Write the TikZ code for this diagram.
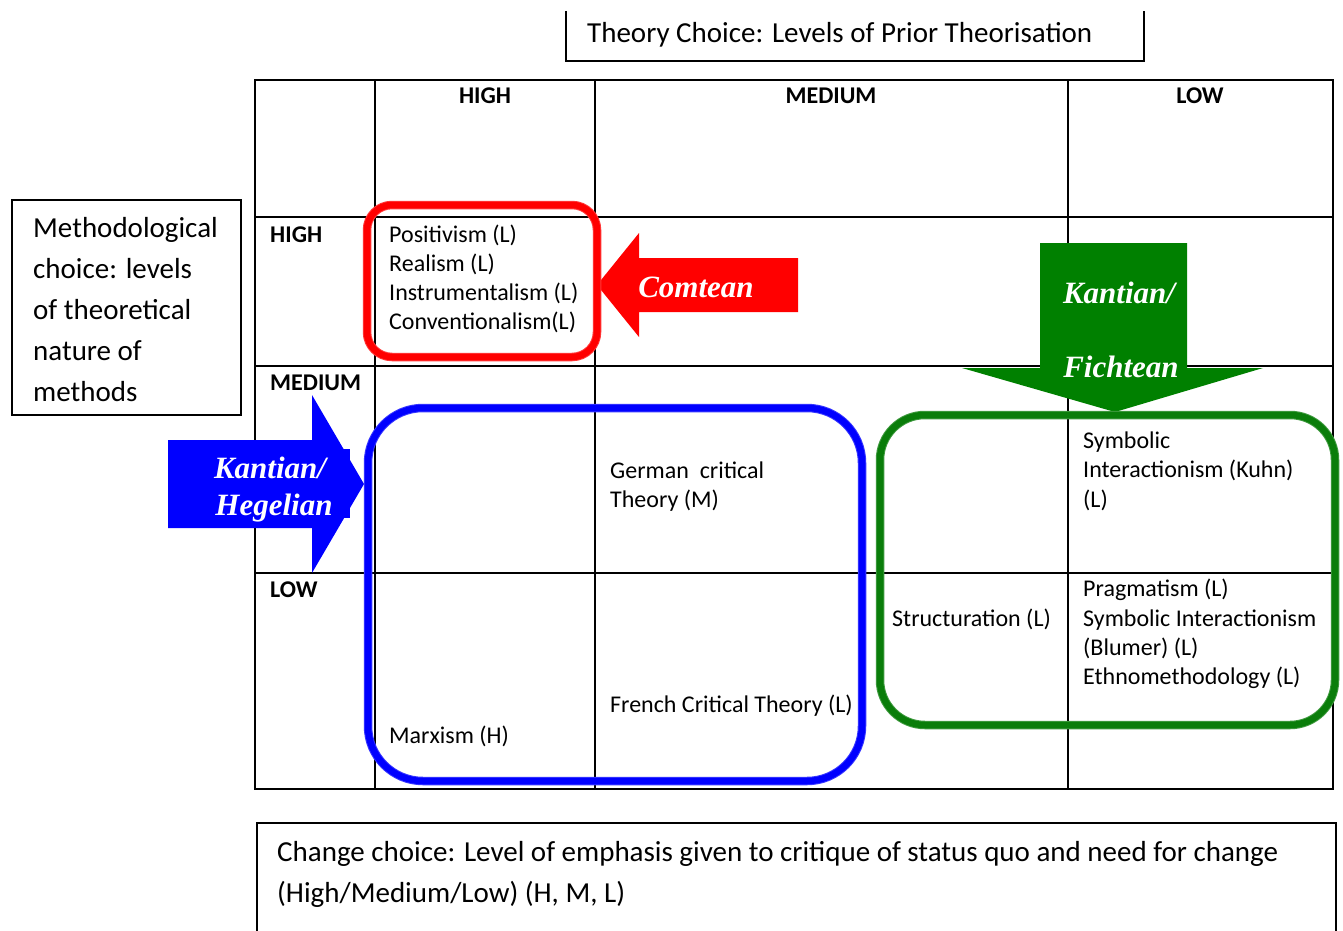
\documentclass[tikz,border=0pt]{standalone}
\usepackage{fontspec}
\setmainfont{Carlito}
\newfontfamily\tnr{Liberation Serif}
\definecolor{arrowgreen}{RGB}{0,128,0}
\definecolor{boxgreen}{RGB}{10,125,10}
\definecolor{purered}{RGB}{255,0,0}
\definecolor{pureblue}{RGB}{0,0,255}
% rounded frame with a soft rim round a solid core
\newcommand\glossyframe[4]{%
  \draw[line width=8.5pt,#1!78!white,rounded corners=#4] #2 rectangle #3;
  \draw[line width=6.5pt,#1,rounded corners=#4] #2 rectangle #3;}
\begin{document}
\begin{tikzpicture}[x=1pt,y=-1pt,
  tablerule/.style={line width=2pt,black},
  boxline/.style={line width=1.6pt,black},
  cell/.style={anchor=base west,inner sep=0pt,font=\fontsize{24}{29}\selectfont},
  colhead/.style={anchor=base,inner sep=0pt,font=\fontsize{24}{29}\selectfont\bfseries},
  rowhead/.style={anchor=base west,inner sep=0pt,font=\fontsize{24}{29}\selectfont\bfseries},
  bigtext/.style={anchor=base west,inner sep=0pt,font=\fontsize{29}{35}\selectfont},
  arrowlabel/.style={anchor=base,inner sep=0pt,text=white,font=\fontsize{31}{37}\tnr\bfseries\itshape},
]
\useasboundingbox (0,0) rectangle (1343,931);
\fill[white] (0,0) rectangle (1343,931);

% outer frames of the title boxes
\draw[boxline] (566,11) -- (566,61) -- (1144,61) -- (1144,11);
\draw[boxline] (12,200) rectangle (241,415);
\draw[boxline] (257,931) -- (257,823) -- (1336,823) -- (1336,931);

% table grid
\draw[tablerule] (255,80) rectangle (1333,789);
\foreach \cx in {375,595,1068} \draw[tablerule] (\cx,80) -- (\cx,789);
\foreach \ry in {217,366,573} \draw[tablerule] (255,\ry) -- (1333,\ry);

% block arrows
\fill[purered] (798,258) -- (639,258) -- (639,233) -- (597,285) -- (639,337) -- (639,312) -- (798,312) -- cycle;
\fill[arrowgreen] (1040,243) -- (1187,243) -- (1187,368) -- (1263,368) -- (1115,412) -- (962,368) -- (1040,368) -- cycle;
\fill[pureblue] (168,440) -- (312,440) -- (312,395) -- (364,484) -- (312,573) -- (312,528) -- (168,528) -- cycle;
\fill[pureblue] (300,449) rectangle (350,518);

% grouping frames
\glossyframe{purered}{(367,205)}{(597,357)}{25pt}
\glossyframe{pureblue}{(368,408)}{(862,781)}{55pt}
\glossyframe{boxgreen}{(880,415)}{(1335,725)}{45pt}

% titles
\node[bigtext] (title) at (587,43) {Theory Choice: Levels of Prior Theorisation};
\node[bigtext] (m1) at (33,237) {Methodological};
\node[bigtext] (m2) at (33,278) {choice: levels};
\node[bigtext] (m3) at (33,319) {of theoretical};
\node[bigtext] (m4) at (33,360) {nature of};
\node[bigtext] (m5) at (33,401) {methods};
\node[bigtext] (c1) at (277,861) {Change choice: Level of emphasis given to critique of status quo and need for change};
\node[bigtext] (c2) at (277,902) {(High/Medium/Low) (H, M, L)};

% headers
\node[colhead] (hh) at (485,103) {HIGH};
\node[colhead] (hm) at (831,103) {MEDIUM};
\node[colhead] (hl) at (1200,103) {LOW};
\node[rowhead] (rh) at (270,242) {HIGH};
\node[rowhead] (rm) at (270,390) {MEDIUM};
\node[rowhead] (rl) at (270,597) {LOW};

% cell contents
\node[cell] (p1) at (389,242) {Positivism (L)};
\node[cell] (p2) at (389,271) {Realism (L)};
\node[cell] (p3) at (389,300) {Instrumentalism (L)};
\node[cell] (p4) at (389,329) {Conventionalism(L)};
\node[cell] (g1) at (610,478) {German\ \ critical};
\node[cell] (g2) at (610,507) {Theory (M)};
\node[cell] (s1) at (1083,448) {Symbolic};
\node[cell] (s2) at (1083,477) {Interactionism (Kuhn)};
\node[cell] (s3) at (1083,507) {(L)};
\node[cell] (q1) at (1083,596) {Pragmatism (L)};
\node[cell] (q2) at (1083,626) {Symbolic Interactionism};
\node[cell] (q3) at (1083,655) {(Blumer) (L)};
\node[cell] (q4) at (1083,684) {Ethnomethodology (L)};
\node[cell] (st) at (892,626) {Structuration (L)};
\node[cell] (fr) at (610,712) {French Critical Theory (L)};
\node[cell] (mx) at (389,743) {Marxism (H)};

% arrow labels
\node[arrowlabel] (comte) at (696,297) {Comtean};
\node[arrowlabel] (kf1) at (1119,303) {Kantian/};
\node[arrowlabel] (kf2) at (1121,377) {Fichtean};
\node[arrowlabel] (kh1) at (270,478) {Kantian/};
\node[arrowlabel] (kh2) at (274,515) {Hegelian};
\end{tikzpicture}
\end{document}
